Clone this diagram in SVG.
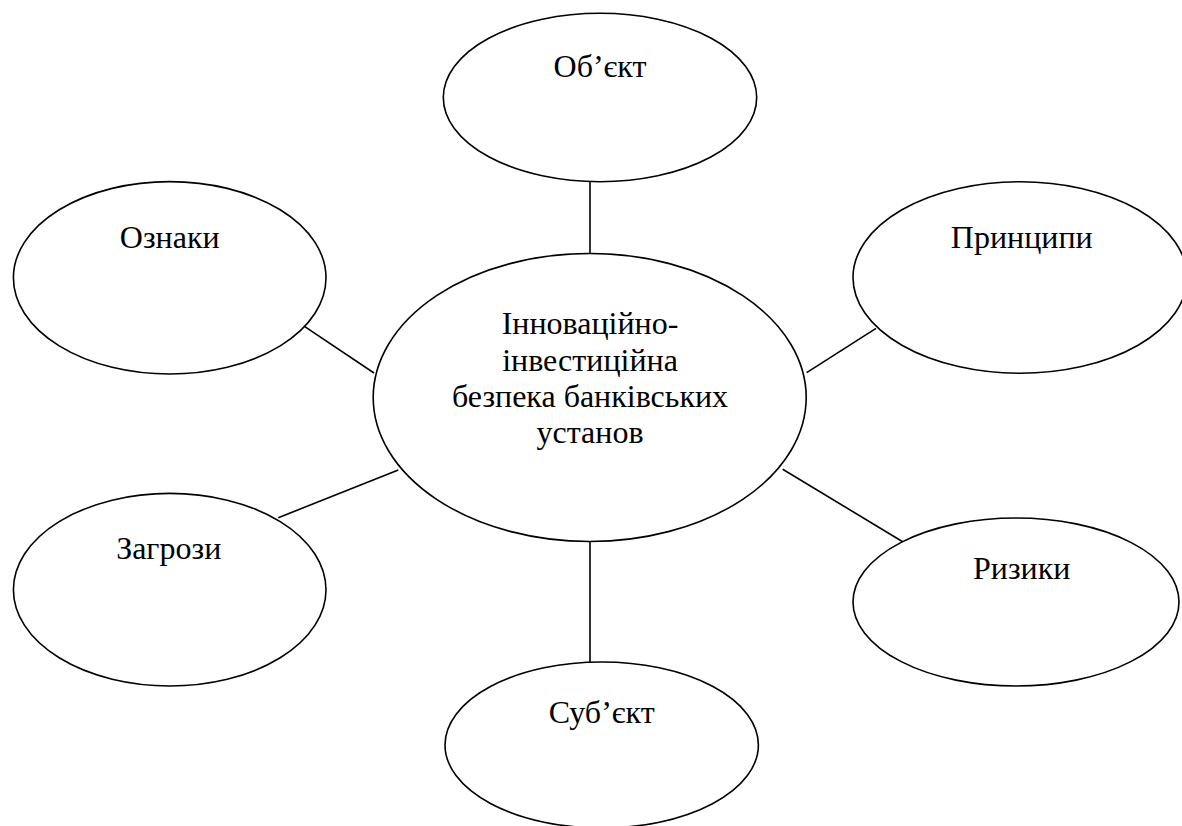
<svg xmlns="http://www.w3.org/2000/svg" width="1182" height="826" viewBox="0 0 1182 826">
<style>
.n{fill:#fff;stroke:#000;stroke-width:1.6}
.c line{stroke:#000;stroke-width:1.6}
.t{font-family:'Liberation Serif','Times New Roman',serif;font-size:32px;fill:#000;text-anchor:middle}
</style>
<rect width="1182" height="826" fill="#fff"/>
<g class="c" id="connectors">
<line x1="590" y1="182" x2="590" y2="254"/>
<line x1="590" y1="541" x2="590" y2="663"/>
<line x1="303.3" y1="325.7" x2="374" y2="373"/>
<line x1="806.7" y1="372.7" x2="876" y2="328.3"/>
<line x1="278.3" y1="517.7" x2="398.3" y2="470"/>
<line x1="782.7" y1="469.3" x2="902.7" y2="541.7"/>
</g>
<g id="center">
<ellipse class="n" cx="589.7" cy="397.5" rx="216.5" ry="144"/>
<text class="t" x="590" y="334.3">Інноваційно-</text>
<text class="t" x="590" y="370.5">інвестиційна</text>
<text class="t" x="590" y="406.7">безпека банківських</text>
<text class="t" x="590" y="443">установ</text>
</g>
<g id="obiekt">
<ellipse class="n" cx="600" cy="97.5" rx="156.7" ry="84.2"/>
<text class="t" x="600" y="76.7">Об’єкт</text>
</g>
<g id="oznaky">
<ellipse class="n" cx="169.7" cy="277.8" rx="156.3" ry="96.2"/>
<text class="t" x="169.7" y="248.3">Ознаки</text>
</g>
<g id="pryntsypy">
<ellipse class="n" cx="1020" cy="277.5" rx="167" ry="95.8"/>
<text class="t" x="1021.7" y="248.3">Принципи</text>
</g>
<g id="zahrozy">
<ellipse class="n" cx="169.7" cy="589.7" rx="156.3" ry="96.3"/>
<text class="t" x="168.7" y="559.3">Загрози</text>
</g>
<g id="ryzyky">
<ellipse class="n" cx="1016" cy="602" rx="163" ry="84"/>
<text class="t" x="1021.7" y="579.3">Ризики</text>
</g>
<g id="subiekt">
<ellipse class="n" cx="601.7" cy="745" rx="156.7" ry="83"/>
<text class="t" x="601.7" y="722.7">Суб’єкт</text>
</g>
</svg>
